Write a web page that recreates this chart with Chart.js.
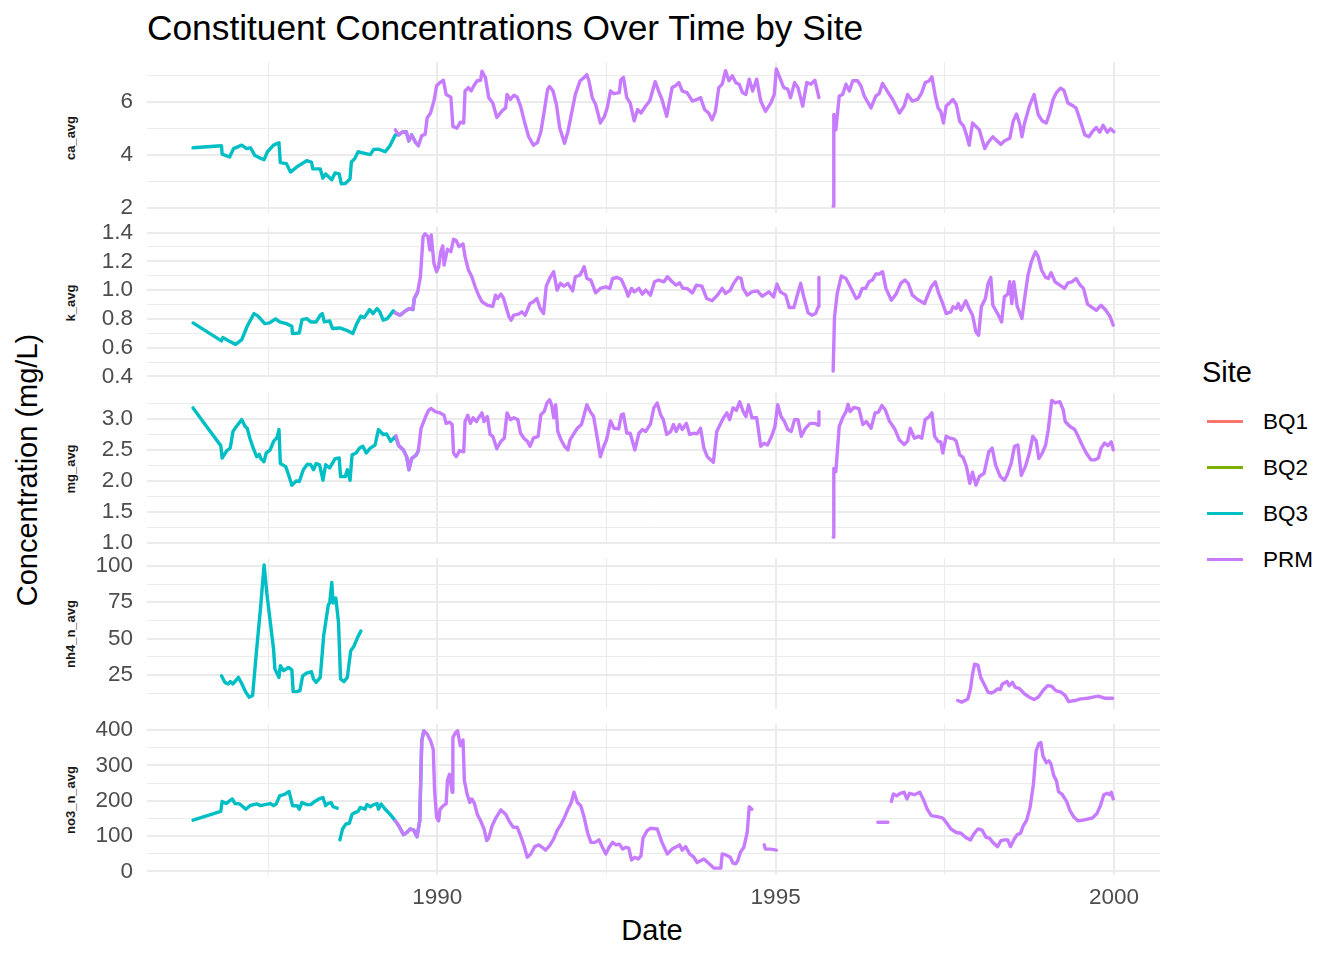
<!DOCTYPE html>
<html>
<head>
<meta charset="utf-8">
<script src="https://cdn.jsdelivr.net/npm/chart.js@4.4.0/dist/chart.umd.min.js"></script>
<style>
  body { margin: 0; background: #fff; width: 1344px; height: 960px; position: relative; overflow: hidden;
         font-family: 'Liberation Sans', Arial, Helvetica, sans-serif; }
  canvas { position: absolute; left: 0; }
  .txt { position: absolute; white-space: nowrap; color: #000; }
  .rot { transform: translate(-50%, -50%) rotate(-90deg); }
  .strip { font-size: 13px; font-weight: bold; color: #1A1A1A; }
  .key { position: absolute; height: 3px; width: 36px; left: 1207px; }
  .lab { position: absolute; left: 1263px; font-size: 22.5px; line-height: 26px; }
</style>
</head>
<body>
<div class="txt" style="left:147px;top:8px;font-size:35.3px;line-height:40px;">Constituent Concentrations Over Time by Site</div>
<div class="txt rot" style="left:27px;top:470px;font-size:29px;">Concentration (mg/L)</div>
<div class="txt" style="left:652px;top:930px;font-size:29px;transform:translate(-50%,-50%);">Date</div>
<div id="strips"></div>
<div id="legend"></div>

<canvas id="p0" width="1160" height="191" style="top:42px"></canvas>
<canvas id="p1" width="1160" height="191" style="top:207px"></canvas>
<canvas id="p2" width="1160" height="191" style="top:373px"></canvas>
<canvas id="p3" width="1160" height="191" style="top:538px"></canvas>
<canvas id="p4" width="1160" height="216" style="top:704px"></canvas>

<script>
// site colours (ggplot default hue palette)
const siteNames = ['BQ1', 'BQ2', 'BQ3', 'PRM'];
const siteColors = ['#F8766D', '#7CAE00', '#00BFC4', '#C77CFF'];

// x axis breaks (decimal years)
const xMajor = [1990, 1995, 2000];
const xMinor = [1987.5, 1992.5, 1997.5];

// ---- ca_avg ----
const caBQ3Year = [1986.39,1986.81,1986.82,1986.93,1986.99,1987.11,1987.18,1987.24,1987.30,1987.38,1987.44,1987.49,1987.58,1987.66,1987.68,1987.77,1987.83,1987.92,1988.07,1988.14,1988.16,1988.27,1988.31,1988.35,1988.44,1988.49,1988.55,1988.58,1988.64,1988.71,1988.73,1988.78,1988.83,1988.88,1989.01,1989.06,1989.13,1989.23,1989.30,1989.38,1989.43,1989.48,1989.54,1989.58,1989.62,1989.68,1989.72];
const caBQ3 = [4.27,4.35,4.03,3.92,4.24,4.37,4.24,4.27,3.99,3.88,3.82,4.12,4.37,4.46,3.71,3.67,3.35,3.54,3.78,3.73,3.47,3.47,3.12,3.28,3.06,3.32,3.28,2.91,2.92,3.09,3.73,3.86,4.12,4.09,4.01,4.21,4.22,4.12,4.35,4.76,4.76,4.86,4.88,4.53,4.76,4.47,4.35];
const caPRMYear = [1989.38,1989.43,1989.48,1989.54,1989.58,1989.62,1989.68,1989.72,1989.77,1989.82,1989.85,1989.90,1989.95,1989.99,1990.04,1990.09,1990.13,1990.20,1990.23,1990.29,1990.34,1990.39,1990.41,1990.46,1990.50,1990.54,1990.59,1990.64,1990.66,1990.71,1990.76,1990.82,1990.88,1990.96,1991.01,1991.03,1991.08,1991.13,1991.18,1991.23,1991.30,1991.35,1991.42,1991.48,1991.53,1991.58,1991.63,1991.66,1991.71,1991.76,1991.81,1991.88,1991.93,1992.00,1992.04,1992.11,1992.16,1992.21,1992.24,1992.29,1992.34,1992.41,1992.47,1992.51,1992.56,1992.61,1992.69,1992.71,1992.75,1992.80,1992.85,1992.91,1992.96,1993.01,1993.08,1993.14,1993.22,1993.27,1993.32,1993.39,1993.47,1993.52,1993.57,1993.62,1993.69,1993.77,1993.84,1993.89,1993.95,1994.01,1994.06,1994.11,1994.16,1994.21,1994.26,1994.31,1994.36,1994.41,1994.46,1994.51,1994.56,1994.61,1994.66,1994.72,1994.78,1994.85,1994.93,1994.98,1995.01,1995.06,1995.12,1995.18,1995.22,1995.28,1995.33,1995.40,1995.46,1995.52,1995.58,1995.64,1995.75,1995.85,1995.86,1995.89,1995.94,1995.99,1996.04,1996.09,1996.14,1996.21,1996.26,1996.31,1996.41,1996.48,1996.53,1996.58,1996.65,1996.73,1996.83,1996.90,1996.95,1997.02,1997.10,1997.16,1997.21,1997.27,1997.31,1997.36,1997.40,1997.44,1997.48,1997.52,1997.57,1997.62,1997.67,1997.72,1997.78,1997.82,1997.86,1997.91,1997.96,1998.01,1998.09,1998.14,1998.21,1998.26,1998.33,1998.38,1998.46,1998.51,1998.56,1998.61,1998.64,1998.68,1998.75,1998.82,1998.88,1998.94,1999.00,1999.05,1999.10,1999.15,1999.21,1999.26,1999.32,1999.40,1999.44,1999.49,1999.57,1999.63,1999.68,1999.74,1999.79,1999.84,1999.90,1999.95,2000.00];
const caPRM = [4.95,4.76,4.86,4.88,4.53,4.76,4.47,4.35,4.73,4.78,5.40,5.59,6.04,6.62,6.74,6.83,6.29,6.19,5.08,5.01,5.24,5.21,6.42,6.55,6.42,6.62,6.81,6.83,7.17,6.94,6.17,5.97,5.42,5.68,5.78,6.29,6.10,6.26,6.19,5.85,5.14,4.69,4.37,4.47,4.88,5.65,6.49,6.59,6.42,5.91,5.01,4.44,4.88,5.78,6.29,6.81,6.91,7.04,6.81,6.17,5.91,5.21,5.46,5.78,6.42,6.32,6.36,6.83,6.94,6.17,5.97,5.29,5.72,5.59,5.85,6.05,6.78,6.42,6.10,5.46,6.55,6.62,6.74,6.42,6.36,6.04,6.10,6.17,5.72,5.59,5.33,5.65,6.55,6.68,7.19,6.81,7.00,6.74,6.68,6.36,6.29,6.87,6.42,6.87,6.04,5.65,5.97,6.29,7.26,6.94,6.55,6.49,6.17,6.74,6.55,5.85,6.74,6.68,6.83,6.17,null,2.06,5.53,4.95,6.23,6.29,6.68,6.42,6.81,6.81,6.62,6.23,5.78,6.23,6.32,6.71,6.42,6.10,5.59,5.85,6.29,6.04,6.10,6.36,6.74,6.81,6.96,6.23,5.78,5.65,5.21,5.85,5.97,6.10,5.91,5.27,5.08,4.76,4.37,5.21,5.08,4.95,4.24,4.47,4.69,4.56,4.40,4.53,4.63,5.27,5.55,5.14,4.69,5.21,5.85,6.29,5.53,5.29,5.21,5.59,6.10,6.36,6.53,6.45,5.97,5.85,5.78,5.40,4.76,4.69,4.88,5.04,4.86,5.12,4.86,4.99,4.88];

// ---- k_avg ----
const kBQ3Year = [1986.39,1986.81,1986.83,1986.92,1987.02,1987.11,1987.19,1987.29,1987.35,1987.45,1987.52,1987.61,1987.67,1987.77,1987.85,1987.86,1987.96,1988.00,1988.07,1988.13,1988.21,1988.27,1988.30,1988.33,1988.41,1988.45,1988.56,1988.66,1988.75,1988.81,1988.87,1988.92,1989.00,1989.05,1989.11,1989.15,1989.20,1989.26,1989.35,1989.38,1989.45,1989.53,1989.59,1989.64,1989.66,1989.71];
const kBQ3 = [0.772,0.647,0.670,0.647,0.623,0.656,0.749,0.837,0.819,0.767,0.772,0.800,0.779,0.767,0.749,0.698,0.702,0.795,0.802,0.779,0.779,0.826,0.837,0.779,0.786,0.733,0.737,0.721,0.698,0.767,0.819,0.809,0.865,0.837,0.872,0.849,0.791,0.802,0.856,0.842,0.826,0.856,0.872,0.865,0.942,0.988];
const kPRMYear = [1989.38,1989.45,1989.53,1989.59,1989.64,1989.66,1989.71,1989.75,1989.79,1989.82,1989.86,1989.89,1989.91,1989.95,1989.99,1990.02,1990.05,1990.08,1990.10,1990.15,1990.20,1990.24,1990.28,1990.32,1990.38,1990.41,1990.46,1990.51,1990.56,1990.61,1990.66,1990.74,1990.82,1990.86,1990.89,1990.94,1990.98,1991.03,1991.06,1991.09,1991.13,1991.20,1991.25,1991.30,1991.37,1991.42,1991.47,1991.52,1991.57,1991.61,1991.66,1991.72,1991.77,1991.82,1991.87,1991.93,1992.00,1992.04,1992.11,1992.17,1992.21,1992.27,1992.34,1992.41,1992.49,1992.55,1992.59,1992.66,1992.72,1992.79,1992.82,1992.87,1992.91,1992.98,1993.03,1993.08,1993.15,1993.21,1993.27,1993.35,1993.40,1993.47,1993.53,1993.58,1993.63,1993.69,1993.77,1993.83,1993.91,1993.98,1994.06,1994.14,1994.21,1994.26,1994.33,1994.38,1994.44,1994.49,1994.52,1994.58,1994.65,1994.73,1994.80,1994.85,1994.90,1994.97,1995.02,1995.07,1995.15,1995.20,1995.27,1995.32,1995.37,1995.41,1995.48,1995.54,1995.59,1995.63,1995.64,1995.75,1995.85,1995.87,1995.91,1995.97,1996.04,1996.09,1996.14,1996.19,1996.23,1996.28,1996.33,1996.38,1996.43,1996.48,1996.53,1996.58,1996.63,1996.71,1996.78,1996.85,1996.91,1996.96,1997.02,1997.10,1997.20,1997.25,1997.30,1997.36,1997.41,1997.47,1997.52,1997.59,1997.62,1997.67,1997.70,1997.74,1997.81,1997.86,1997.91,1997.96,1998.00,1998.04,1998.10,1998.14,1998.18,1998.21,1998.28,1998.34,1998.38,1998.43,1998.46,1998.49,1998.52,1998.57,1998.64,1998.69,1998.73,1998.78,1998.84,1998.88,1998.93,1998.99,1999.03,1999.07,1999.13,1999.20,1999.27,1999.32,1999.38,1999.44,1999.50,1999.55,1999.61,1999.68,1999.74,1999.81,1999.88,1999.94,1999.99];
const kPRM = [0.842,0.826,0.856,0.872,0.865,0.942,0.988,1.093,1.372,1.391,1.372,1.279,1.384,1.186,1.128,1.163,1.267,1.307,1.174,1.284,1.267,1.353,1.344,1.302,1.321,1.233,1.140,1.093,1.023,0.965,0.919,0.895,0.888,0.965,0.942,0.972,0.942,0.860,0.814,0.791,0.826,0.833,0.849,0.826,0.907,0.919,0.942,0.872,0.837,1.028,1.081,1.128,1.000,1.047,1.028,1.047,0.995,1.093,1.105,1.163,1.081,1.070,0.981,1.012,1.023,1.012,1.081,1.088,1.074,1.000,0.958,1.012,0.988,1.012,0.972,1.000,0.965,1.058,1.070,1.058,1.093,1.058,1.035,1.051,1.012,1.012,0.981,1.035,1.028,0.942,0.926,0.965,1.012,0.977,1.000,1.047,1.088,1.081,1.012,0.965,0.988,0.995,0.958,0.972,0.988,0.953,1.042,0.988,0.965,0.879,0.879,0.965,1.047,0.965,0.842,0.826,0.837,0.884,1.088,null,0.437,0.814,0.977,1.098,1.081,1.035,0.988,0.942,0.953,1.012,1.012,1.058,1.070,1.112,1.112,1.128,1.012,0.930,0.972,1.047,1.070,1.047,0.965,0.935,0.907,0.965,1.023,1.058,0.977,0.907,0.837,0.849,0.884,0.872,0.907,0.860,0.926,0.872,0.826,0.709,0.686,0.884,0.942,1.047,1.088,0.895,0.837,0.779,0.953,0.972,1.058,0.907,1.058,0.888,0.802,0.977,1.105,1.198,1.267,1.233,1.140,1.088,1.081,1.121,1.058,1.035,1.012,1.051,1.058,1.081,1.035,1.012,0.902,0.879,0.860,0.895,0.860,0.819,0.756];

// ---- mg_avg ----
const mgBQ3Year = [1986.39,1986.59,1986.80,1986.82,1986.89,1986.94,1986.98,1987.03,1987.11,1987.16,1987.19,1987.23,1987.28,1987.33,1987.37,1987.39,1987.44,1987.47,1987.53,1987.58,1987.63,1987.66,1987.68,1987.76,1987.81,1987.85,1987.92,1987.96,1988.02,1988.08,1988.13,1988.17,1988.21,1988.26,1988.31,1988.35,1988.41,1988.49,1988.55,1988.57,1988.64,1988.67,1988.71,1988.74,1988.80,1988.85,1988.90,1988.95,1989.01,1989.08,1989.13,1989.20,1989.25,1989.31,1989.38,1989.43,1989.50,1989.55,1989.58,1989.62,1989.69,1989.72];
const mgBQ3 = [3.18,2.88,2.57,2.37,2.49,2.53,2.80,2.88,2.99,2.88,2.85,2.69,2.53,2.39,2.43,2.36,2.31,2.45,2.50,2.64,2.70,2.83,2.28,2.23,2.07,1.93,2.00,1.99,2.18,2.27,2.26,2.18,2.28,2.26,2.01,2.26,2.21,2.36,2.37,2.07,2.07,2.18,2.01,2.42,2.45,2.53,2.56,2.45,2.53,2.58,2.83,2.75,2.76,2.64,2.72,2.57,2.50,2.38,2.18,2.36,2.42,2.49];
const mgPRMYear = [1989.39,1989.43,1989.50,1989.55,1989.58,1989.62,1989.69,1989.72,1989.76,1989.82,1989.87,1989.91,1989.97,1990.04,1990.10,1990.13,1990.18,1990.22,1990.24,1990.28,1990.33,1990.39,1990.41,1990.45,1990.49,1990.53,1990.58,1990.61,1990.66,1990.69,1990.74,1990.78,1990.82,1990.88,1990.94,1990.99,1991.03,1991.08,1991.13,1991.19,1991.23,1991.28,1991.33,1991.37,1991.42,1991.49,1991.53,1991.58,1991.62,1991.66,1991.69,1991.72,1991.75,1991.78,1991.83,1991.88,1991.93,1991.96,1992.01,1992.07,1992.13,1992.17,1992.21,1992.26,1992.31,1992.36,1992.41,1992.46,1992.50,1992.56,1992.61,1992.68,1992.72,1992.75,1992.80,1992.85,1992.92,1992.98,1993.03,1993.08,1993.15,1993.20,1993.25,1993.30,1993.34,1993.39,1993.45,1993.49,1993.53,1993.58,1993.62,1993.68,1993.73,1993.79,1993.84,1993.89,1993.94,1993.99,1994.04,1994.08,1994.13,1994.18,1994.23,1994.28,1994.32,1994.37,1994.42,1994.47,1994.52,1994.56,1994.60,1994.65,1994.72,1994.78,1994.83,1994.88,1994.94,1994.99,1995.03,1995.08,1995.13,1995.18,1995.23,1995.28,1995.33,1995.38,1995.44,1995.51,1995.58,1995.63,1995.64,1995.75,1995.85,1995.86,1995.89,1995.94,1995.99,1996.04,1996.07,1996.10,1996.16,1996.23,1996.29,1996.34,1996.41,1996.47,1996.52,1996.57,1996.62,1996.68,1996.76,1996.83,1996.90,1996.95,1996.99,1997.05,1997.11,1997.16,1997.21,1997.27,1997.31,1997.35,1997.40,1997.44,1997.47,1997.52,1997.58,1997.63,1997.67,1997.72,1997.77,1997.82,1997.87,1997.91,1997.96,1998.01,1998.08,1998.15,1998.20,1998.25,1998.32,1998.38,1998.42,1998.48,1998.53,1998.58,1998.63,1998.69,1998.75,1998.80,1998.85,1998.89,1998.94,1998.99,1999.03,1999.08,1999.13,1999.20,1999.25,1999.28,1999.35,1999.42,1999.47,1999.53,1999.59,1999.66,1999.72,1999.77,1999.81,1999.86,1999.91,1999.96,1999.99];
const mgPRM = [2.73,2.57,2.50,2.38,2.18,2.36,2.42,2.49,2.85,3.02,3.14,3.17,3.12,3.10,3.06,2.93,2.95,2.91,2.45,2.39,2.49,2.47,2.96,3.06,2.93,3.02,2.96,3.02,3.10,2.96,3.04,2.75,2.72,2.52,2.64,2.69,3.10,2.99,3.02,2.99,2.77,2.69,2.64,2.56,2.69,2.72,3.07,3.12,3.26,3.31,3.23,3.02,3.23,2.80,2.66,2.56,2.50,2.66,2.75,2.85,2.91,3.07,3.23,3.12,3.04,2.72,2.39,2.56,2.66,2.97,2.85,2.84,3.07,3.08,2.77,2.77,2.50,2.77,2.83,2.80,2.92,3.18,3.26,3.07,2.99,2.75,2.80,2.91,2.80,2.91,2.83,2.93,2.75,2.77,2.76,2.85,2.53,2.39,2.34,2.30,2.80,2.91,3.02,3.10,2.99,3.18,3.14,3.28,3.12,3.04,3.23,3.02,3.02,2.56,2.61,2.58,2.72,2.88,3.23,3.04,2.96,2.83,2.80,2.99,2.99,2.72,2.85,2.93,2.93,2.90,3.12,null,1.09,2.20,2.15,2.88,3.02,3.12,3.24,3.12,3.19,3.17,2.91,2.96,2.85,3.10,3.11,3.22,3.15,2.97,2.84,2.66,2.59,2.64,2.85,2.69,2.72,2.69,2.99,3.04,3.10,2.72,2.64,2.63,2.45,2.72,2.69,2.68,2.64,2.42,2.38,2.23,1.96,2.14,1.93,2.07,2.12,2.47,2.53,2.26,2.07,2.01,2.09,2.28,2.56,2.58,2.09,2.23,2.45,2.72,2.65,2.36,2.45,2.58,2.83,3.30,3.26,3.28,3.15,2.96,2.88,2.83,2.72,2.58,2.45,2.34,2.34,2.37,2.53,2.61,2.57,2.63,2.50];

// ---- nh4_n_avg ----
const nh4BQ3Year = [1986.81,1986.86,1986.91,1986.94,1986.98,1987.06,1987.10,1987.17,1987.22,1987.27,1987.33,1987.39,1987.44,1987.48,1987.53,1987.58,1987.60,1987.66,1987.68,1987.73,1987.80,1987.85,1987.87,1987.92,1987.97,1988.01,1988.07,1988.14,1988.17,1988.21,1988.27,1988.32,1988.39,1988.41,1988.44,1988.46,1988.50,1988.54,1988.57,1988.62,1988.67,1988.72,1988.77,1988.82,1988.87];
const nh4BQ3 = [24.5,20.0,18.9,20.5,18.9,23.4,20.0,13.2,9.8,10.9,42.7,72.3,100.7,81.4,62.0,42.7,29.1,23.4,31.4,28.0,30.2,28.6,13.6,13.6,14.3,24.5,26.4,27.3,22.3,20.0,23.4,51.8,73.4,74.5,88.6,74.5,78.0,60.9,22.3,20.5,23.4,41.6,45.0,50.7,55.2];
const nh4PRMYear = [1997.69,1997.75,1997.84,1997.88,1997.91,1997.94,1997.99,1998.03,1998.08,1998.14,1998.19,1998.23,1998.28,1998.32,1998.35,1998.42,1998.45,1998.50,1998.54,1998.60,1998.68,1998.75,1998.82,1998.88,1998.95,1999.02,1999.08,1999.14,1999.22,1999.28,1999.33,1999.42,1999.51,1999.61,1999.69,1999.77,1999.86,1999.94,1999.98];
const nh4PRM = [7.5,6.4,8.6,15.5,25.7,32.5,31.8,23.4,18.9,13.2,12.7,13.6,15.5,15.0,18.9,20.5,17.7,20.0,16.6,15.9,12.0,9.8,8.2,9.8,14.3,17.7,17.3,14.3,13.2,10.9,6.8,7.5,8.6,9.1,9.8,10.5,9.1,9.1,9.1];

// ---- no3_n_avg ----
const no3BQ3Year = [1986.39,1986.80,1986.82,1986.88,1986.92,1986.97,1987.01,1987.08,1987.17,1987.23,1987.33,1987.39,1987.45,1987.53,1987.58,1987.62,1987.67,1987.75,1987.81,1987.86,1987.93,1987.96,1988.00,1988.07,1988.13,1988.19,1988.25,1988.31,1988.35,1988.38,1988.43,1988.46,1988.52,1988.54,1988.56,1988.60,1988.65,1988.70,1988.74,1988.79,1988.83,1988.86,1988.93,1988.96,1989.01,1989.06,1989.11,1989.13,1989.17,1989.23,1989.30,1989.38,1989.43,1989.50,1989.55,1989.60,1989.65,1989.70,1989.74,1989.77,1989.80];
const no3BQ3 = [145,170,198,192,198,205,192,191,176,186,191,186,189,192,186,191,214,219,226,186,186,176,195,189,189,198,205,209,186,192,195,183,179,null,89,120,134,136,162,167,170,181,176,189,183,189,192,176,191,176,162,143,129,104,110,120,117,98,143,370,398];
const no3PRMYear = [1989.38,1989.43,1989.50,1989.55,1989.60,1989.65,1989.70,1989.74,1989.77,1989.80,1989.85,1989.90,1989.94,1989.96,1989.99,1990.02,1990.04,1990.09,1990.13,1990.15,1990.18,1990.22,1990.23,1990.27,1990.30,1990.34,1990.38,1990.40,1990.44,1990.48,1990.51,1990.55,1990.59,1990.64,1990.69,1990.73,1990.76,1990.81,1990.87,1990.94,1991.01,1991.06,1991.12,1991.18,1991.23,1991.28,1991.33,1991.38,1991.44,1991.50,1991.55,1991.60,1991.66,1991.72,1991.77,1991.83,1991.88,1991.93,1991.98,1992.02,1992.07,1992.12,1992.17,1992.22,1992.27,1992.33,1992.39,1992.44,1992.49,1992.54,1992.59,1992.64,1992.69,1992.74,1992.79,1992.83,1992.87,1992.92,1992.97,1993.01,1993.04,1993.10,1993.15,1993.25,1993.32,1993.40,1993.47,1993.54,1993.58,1993.62,1993.67,1993.73,1993.79,1993.84,1993.94,1994.01,1994.09,1994.19,1994.21,1994.26,1994.33,1994.37,1994.41,1994.44,1994.48,1994.53,1994.58,1994.61,1994.65,1994.74,1994.83,1994.85,1994.93,1995.01,1995.80,1996.51,1996.66,1996.69,1996.71,1996.74,1996.79,1996.84,1996.90,1996.94,1996.98,1997.05,1997.13,1997.18,1997.24,1997.30,1997.39,1997.47,1997.53,1997.59,1997.67,1997.74,1997.81,1997.88,1997.93,1997.99,1998.05,1998.11,1998.16,1998.21,1998.28,1998.33,1998.38,1998.43,1998.47,1998.52,1998.57,1998.62,1998.66,1998.71,1998.76,1998.81,1998.85,1998.89,1998.92,1998.95,1999.00,1999.04,1999.07,1999.11,1999.15,1999.18,1999.23,1999.30,1999.35,1999.41,1999.47,1999.54,1999.61,1999.68,1999.75,1999.80,1999.85,1999.90,1999.94,1999.96,1999.99];
const no3PRM = [143,129,104,110,120,117,98,143,370,398,389,370,346,228,153,143,176,186,191,257,275,224,379,393,398,356,372,257,219,195,205,192,162,143,120,87,94,129,153,174,162,143,125,125,101,73,40,49,70,75,68,60,73,92,115,134,153,176,195,224,195,186,153,110,82,82,89,68,49,68,82,75,77,63,68,66,32,40,35,44,94,115,122,120,82,49,63,70,75,60,70,49,40,25,35,23,9,9,49,47,40,23,21,30,54,68,110,183,176,null,75,63,63,60,null,139,139,null,198,219,214,221,224,205,221,217,224,205,176,158,155,151,136,120,110,108,96,89,106,120,117,96,94,82,70,87,89,89,70,89,104,108,129,145,181,247,341,362,365,327,308,313,304,271,257,226,219,198,172,153,143,145,148,151,164,186,217,221,217,224,205];

// y breaks per panel
const caMajor = [2, 4, 6],            caMinor = [3, 5, 7];
const kMajor = [0.4, 0.6, 0.8, 1.0, 1.2, 1.4], kMinor = [0.5, 0.7, 0.9, 1.1, 1.3];
const mgMajor = [1.0, 1.5, 2.0, 2.5, 3.0], mgMinor = [1.25, 1.75, 2.25, 2.75, 3.25];
const nh4Major = [25, 50, 75, 100],   nh4Minor = [12.5, 37.5, 62.5, 87.5];
const no3Major = [0, 100, 200, 300, 400], no3Minor = [50, 150, 250, 350];

const panels = [
  { label: 'ca_avg',    major: caMajor,  minor: caMinor,  dec: 0,
    BQ3: [caBQ3Year, caBQ3],   PRM: [caPRMYear, caPRM] },
  { label: 'k_avg',     major: kMajor,   minor: kMinor,   dec: 1,
    BQ3: [kBQ3Year, kBQ3],     PRM: [kPRMYear, kPRM] },
  { label: 'mg_avg',    major: mgMajor,  minor: mgMinor,  dec: 1,
    BQ3: [mgBQ3Year, mgBQ3],   PRM: [mgPRMYear, mgPRM] },
  { label: 'nh4_n_avg', major: nh4Major, minor: nh4Minor, dec: 0,
    BQ3: [nh4BQ3Year, nh4BQ3], PRM: [nh4PRMYear, nh4PRM] },
  { label: 'no3_n_avg', major: no3Major, minor: no3Minor, dec: 0,
    BQ3: [no3BQ3Year, no3BQ3], PRM: [no3PRMYear, no3PRM] }
];

const panelTops = [62, 227, 393, 558, 724];
const panelH = 151;
const PAD = 20;   // room above / below each panel so edge tick labels are not cut
const FONT = "'Liberation Sans', Arial, Helvetica, sans-serif";

// ggplot style 5% expansion
function expand(vals) {
  const v = vals.filter(d => d !== null && d !== undefined);
  const lo = Math.min(...v), hi = Math.max(...v);
  const pad = (hi - lo) * 0.05;
  return [lo - pad, hi + pad];
}

const allYears = [].concat(...panels.map(p => p.BQ3[0].concat(p.PRM[0])));
const [xMin, xMax] = expand(allYears);

const isIn = (arr, v) => arr.some(m => Math.abs(m - v) < 1e-6);

function toPoints(pair) {
  return pair[0].map((x, i) => ({ x: x, y: pair[1][i] }));
}

function breaksFor(major, minor) {
  return s => {
    s.ticks = major.concat(minor)
      .filter(v => v >= s.min - 1e-9 && v <= s.max + 1e-9)
      .sort((a, b) => a - b)
      .map(v => ({ value: v }));
  };
}

function gridWidth(major) {
  return c => (c.tick && isIn(major, c.tick.value)) ? 2 : 1;
}

panels.forEach((p, idx) => {
  const last = idx === panels.length - 1;
  const [yMin, yMax] = expand(p.BQ3[1].concat(p.PRM[1]));

  const datasets = siteNames.map((name, si) => {
    const pair = p[name] || [[], []];
    return {
      label: name,
      data: toPoints(pair),
      borderColor: siteColors[si],
      backgroundColor: siteColors[si],
      borderWidth: 3.4,
      borderJoinStyle: 'round',
      borderCapStyle: 'round',
      pointRadius: 0,
      tension: 0,
      spanGaps: false,
      clip: false,
      order: siteNames.length - si
    };
  });

  new Chart(document.getElementById('p' + idx), {
    type: 'line',
    data: { datasets: datasets },
    options: {
      responsive: false,
      animation: false,
      layout: { padding: { top: PAD, bottom: last ? 0 : PAD, left: 0, right: 0 } },
      plugins: { legend: { display: false }, tooltip: { enabled: false } },
      scales: {
        x: {
          type: 'linear',
          min: xMin, max: xMax,
          afterBuildTicks: breaksFor(xMajor, xMinor),
          afterFit: s => { s.height = last ? 45 : 0; s.paddingLeft = 0; s.paddingRight = 0; },
          grid: { color: '#EBEBEB', lineWidth: gridWidth(xMajor), drawTicks: false },
          border: { display: false },
          ticks: {
            display: last,
            autoSkip: false,
            maxRotation: 0,
            padding: 9,
            color: '#4D4D4D',
            font: { family: FONT, size: 22.5 },
            callback: v => isIn(xMajor, v) ? String(v) : ''
          }
        },
        y: {
          type: 'linear',
          min: yMin, max: yMax,
          afterBuildTicks: breaksFor(p.major, p.minor),
          afterFit: s => { s.width = 147; s.paddingTop = 0; s.paddingBottom = 0; },
          grid: { color: '#EBEBEB', lineWidth: gridWidth(p.major), drawTicks: false },
          border: { display: false },
          ticks: {
            autoSkip: false,
            padding: 14,
            color: '#4D4D4D',
            font: { family: FONT, size: 22.5 },
            callback: v => isIn(p.major, v) ? v.toFixed(p.dec) : ''
          }
        }
      }
    }
  });

  // strip label on the left of the panel
  const st = document.createElement('div');
  st.className = 'txt rot strip';
  st.style.left = '70px';
  st.style.top = (panelTops[idx] + panelH / 2) + 'px';
  st.textContent = p.label;
  document.getElementById('strips').appendChild(st);
});

// legend
const legend = document.getElementById('legend');
const head = document.createElement('div');
head.className = 'txt';
head.style.cssText = 'left:1202px;top:356px;font-size:29px;line-height:32px;';
head.textContent = 'Site';
legend.appendChild(head);
const keyY = [421, 467, 513, 559];
siteNames.forEach((name, i) => {
  const k = document.createElement('div');
  k.className = 'key';
  k.style.top = (keyY[i] - 1.5) + 'px';
  k.style.background = siteColors[i];
  legend.appendChild(k);
  const t = document.createElement('div');
  t.className = 'txt lab';
  t.style.top = (keyY[i] - 12) + 'px';
  t.textContent = name;
  legend.appendChild(t);
});
</script>
</body>
</html>
